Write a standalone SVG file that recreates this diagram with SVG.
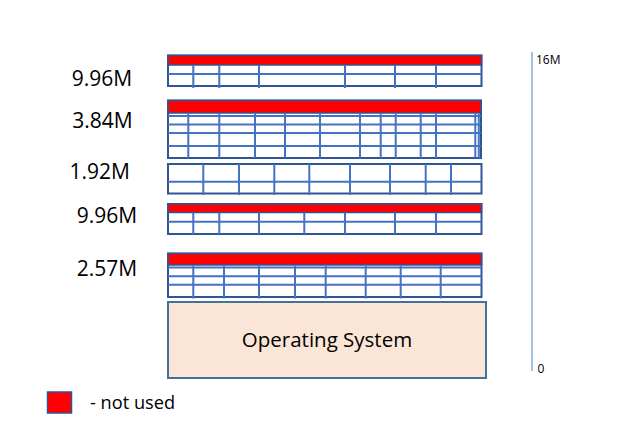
<svg xmlns="http://www.w3.org/2000/svg" width="640" height="427" viewBox="0 0 640 427">
<style>
.out{fill:#fff;stroke:#2F5597;stroke-width:2}
.red{fill:#FF0000;stroke:#2F5597;stroke-width:1.5}
.ln{stroke:#4472C4;stroke-width:2;fill:none}
.lbl{font-family:"Open Sans","Liberation Sans",sans-serif;font-size:21px;fill:#000}
.ax{stroke:#9DC3E6;stroke-width:2}
.sm{font-family:"Open Sans","Liberation Sans",sans-serif;font-size:12px;fill:#000}
</style>
<rect width="640" height="427" fill="#fff"/>
<g id="block1">
<rect class="out" x="168" y="55.5" width="313.5" height="30.5"/>
<rect class="red" x="168" y="55.5" width="313.5" height="9.5"/>
<path class="ln" d="M168 74H481.5M193.3 65V88M219.3 65V88M259 65V88M345 65V88M395 65V88M436 65V88"/>
</g>
<g id="block2">
<rect class="out" x="168" y="100.5" width="313" height="57.5"/>
<rect class="red" x="168" y="100.5" width="313" height="12.5"/>
<path class="ln" d="M168 116H481M168 124.5H481M168 133H481M168 146H481M188.3 114V158M219.3 114V158M255 114V158M285 114V158M320 114V158M360 114V158M380.7 114V158M395.7 114V158M420.7 114V158M436 114V158M475.3 114V158M478.8 114V158"/>
</g>
<g id="block3">
<rect class="out" x="168" y="164" width="313.5" height="29.5"/>
<path class="ln" d="M168 181.7H481.5M203.3 164V195M239 164V195M274.3 164V195M309.3 164V195M350 164V195M390 164V195M425.7 164V195M451 164V195"/>
</g>
<g id="block4">
<rect class="out" x="168" y="204" width="313.5" height="30"/>
<rect class="red" x="168" y="204" width="313.5" height="8.5"/>
<path class="ln" d="M168 221.7H481.5M193.3 212.5V234M219.3 212.5V234M259 212.5V234M304.3 212.5V234M345 212.5V234M395 212.5V234M436 212.5V234"/>
</g>
<g id="block5">
<rect class="out" x="168" y="253.5" width="313.5" height="43.5"/>
<rect class="red" x="168" y="253.5" width="313.5" height="11.5"/>
<path class="ln" d="M168 267.5H481.5M168 276.3H481.5M168 284.7H481.5M193.3 266V298.5M224 266V298.5M259 266V298.5M295 266V298.5M325.7 266V298.5M365.7 266V298.5M400.7 266V298.5M440.7 266V298.5"/>
</g>
<g id="os">
<rect x="168" y="302" width="318" height="76" fill="#FBE5D6" stroke="#41719C" stroke-width="2"/>
<text x="327" y="347.3" text-anchor="middle" font-family="'Open Sans','Liberation Sans',sans-serif" font-size="20.5" fill="#000">Operating System</text>
</g>
<g id="labels">
<text class="lbl" x="71.7" y="85.5">9.96M</text>
<text class="lbl" x="72.3" y="128.3">3.84M</text>
<text class="lbl" x="69.5" y="178.5">1.92M</text>
<text class="lbl" x="76.7" y="223.3">9.96M</text>
<text class="lbl" x="76.7" y="276">2.57M</text>
</g>
<g id="axis">
<line class="ax" x1="532" y1="52" x2="532" y2="371"/>
<text class="sm" x="536" y="64">16M</text>
<text class="sm" x="537.5" y="373">0</text>
</g>
<g id="legend">
<rect x="47.5" y="392" width="24" height="21" fill="#FF0000" stroke="#2F5597" stroke-width="1.5"/>
<text x="90" y="408.5" font-family="'Open Sans','Liberation Sans',sans-serif" font-size="18.2" fill="#000">- not used</text>
</g>
</svg>
